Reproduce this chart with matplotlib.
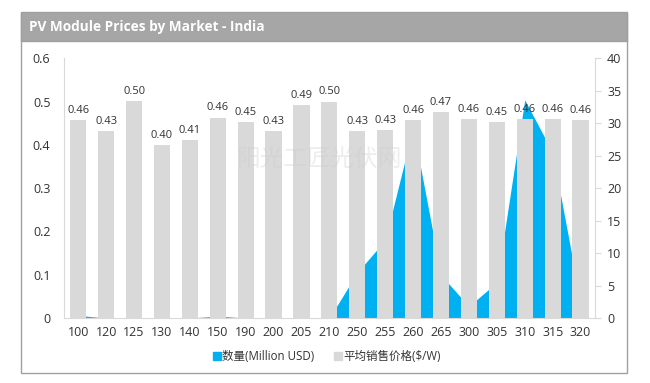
import matplotlib
matplotlib.use("Agg")
import matplotlib.pyplot as plt
from matplotlib.patches import Rectangle
from matplotlib.lines import Line2D
import numpy as np

plt.rcParams['font.family'] = ['Open Sans', 'Noto Sans CJK SC', 'DejaVu Sans']

categories = ['100', '120', '125', '130', '140', '150', '190', '200', '205', '210',
              '250', '255', '260', '265', '300', '305', '310', '315', '320']
price = [0.458, 0.431, 0.502, 0.400, 0.412, 0.463, 0.452, 0.431, 0.492, 0.500,
         0.431, 0.434, 0.458, 0.475, 0.459, 0.453, 0.460, 0.460, 0.458]
quantity = [0.4, 0.0, 0.0, 0.0, 0.0, 0.3, 0.0, 0.0, 0.0, 0.0,
            7.0, 12.0, 29.3, 6.6, 1.8, 5.5, 33.6, 25.5, 2.5]

title = 'PV Module Prices by Market - India'
legend_labels = ['数量(Million USD)', '平均销售价格($/W)']
watermark = '阳光工匠光伏网'

W, H = 650, 383
fig = plt.figure(figsize=(W / 100, H / 100), dpi=100)

def fx(px):
    return px / W

def fy(py):
    return 1 - py / H

# Frame and header
fig.patches.append(Rectangle((fx(21), fy(373)), fx(627) - fx(21), fy(12.5) - fy(373),
                             transform=fig.transFigure, facecolor='white',
                             edgecolor='#a0a0a0', linewidth=1.0, zorder=-10))
fig.patches.append(Rectangle((fx(21), fy(40.5)), fx(627) - fx(21), fy(12.5) - fy(40.5),
                             transform=fig.transFigure, facecolor='#a6a6a6',
                             edgecolor='#a0a0a0', linewidth=1.0, zorder=-9))
fig.text(fx(29), fy(27), title, color='white', fontsize=9.8, fontweight='bold',
         va='center', ha='left', family=['Open Sans', 'DejaVu Sans'])

ax = fig.add_axes([fx(64.3), fy(318), fx(594.5) - fx(64.3), fy(58.3) - fy(318)])
ax2 = ax.twinx()

x = np.arange(len(categories))
ax2.fill_between(x, quantity, 0, color='#00b0f0', linewidth=0, zorder=1)
ax2.set_ylim(0, 40)
ax2.set_yticks(np.arange(0, 41, 5))
ax2.patch.set_visible(False)

bars = ax.bar(x, price, width=0.58, color='#d9d9d9', zorder=2)
for xi, v in zip(x, price):
    ax.annotate(f'{v:.2f}', (xi, v), xytext=(0, 3), textcoords='offset points',
                ha='center', va='bottom', fontsize=8, color='#333333')

ax.set_ylim(0, 0.6)
ax.set_yticks(np.arange(0, 0.61, 0.1))
ax.set_yticklabels(['0'] + [f'{v:.1f}' for v in np.arange(0.1, 0.61, 0.1)])
ax.set_xlim(-0.5, len(categories) - 0.5)
ax.set_xticks(x)
ax.set_xticklabels(categories)

ax.set_zorder(ax2.get_zorder() + 1)
ax.patch.set_visible(False)

for a in (ax, ax2):
    for s in a.spines.values():
        s.set_visible(False)
ax.spines['left'].set_visible(True)
ax.spines['left'].set_color('#d9d9d9')
ax.spines['bottom'].set_visible(True)
ax.spines['bottom'].set_color('#d9d9d9')
ax2.spines['right'].set_visible(True)
ax2.spines['right'].set_color('#d9d9d9')

ax.tick_params(axis='y', length=0, pad=10, labelsize=9, labelcolor='#333333')
ax.tick_params(axis='x', length=0, pad=6, labelsize=9, labelcolor='#333333')
ax2.tick_params(axis='y', length=4, color='#d9d9d9', pad=5, labelsize=9, labelcolor='#333333')

# watermark
fig.text(fx(320), fy(160), watermark, fontsize=17, color='#cccccc', alpha=0.35,
         ha='center', va='center', family=['Noto Sans CJK SC', 'DejaVu Sans'])

handles = [Line2D([0], [0], marker='s', linestyle='none', markersize=5.5,
                  markerfacecolor='#00b0f0', markeredgecolor='#00b0f0'),
           Line2D([0], [0], marker='s', linestyle='none', markersize=5.5,
                  markerfacecolor='#d9d9d9', markeredgecolor='#d9d9d9')]
fig.legend(handles, legend_labels, loc='center', bbox_to_anchor=(fx(327), fy(357)),
           ncol=2, frameon=False, fontsize=8.3, handlelength=0.6, handletextpad=0.2,
           columnspacing=1.7, labelcolor='#333333')

fig.savefig('out.png', dpi=100)
